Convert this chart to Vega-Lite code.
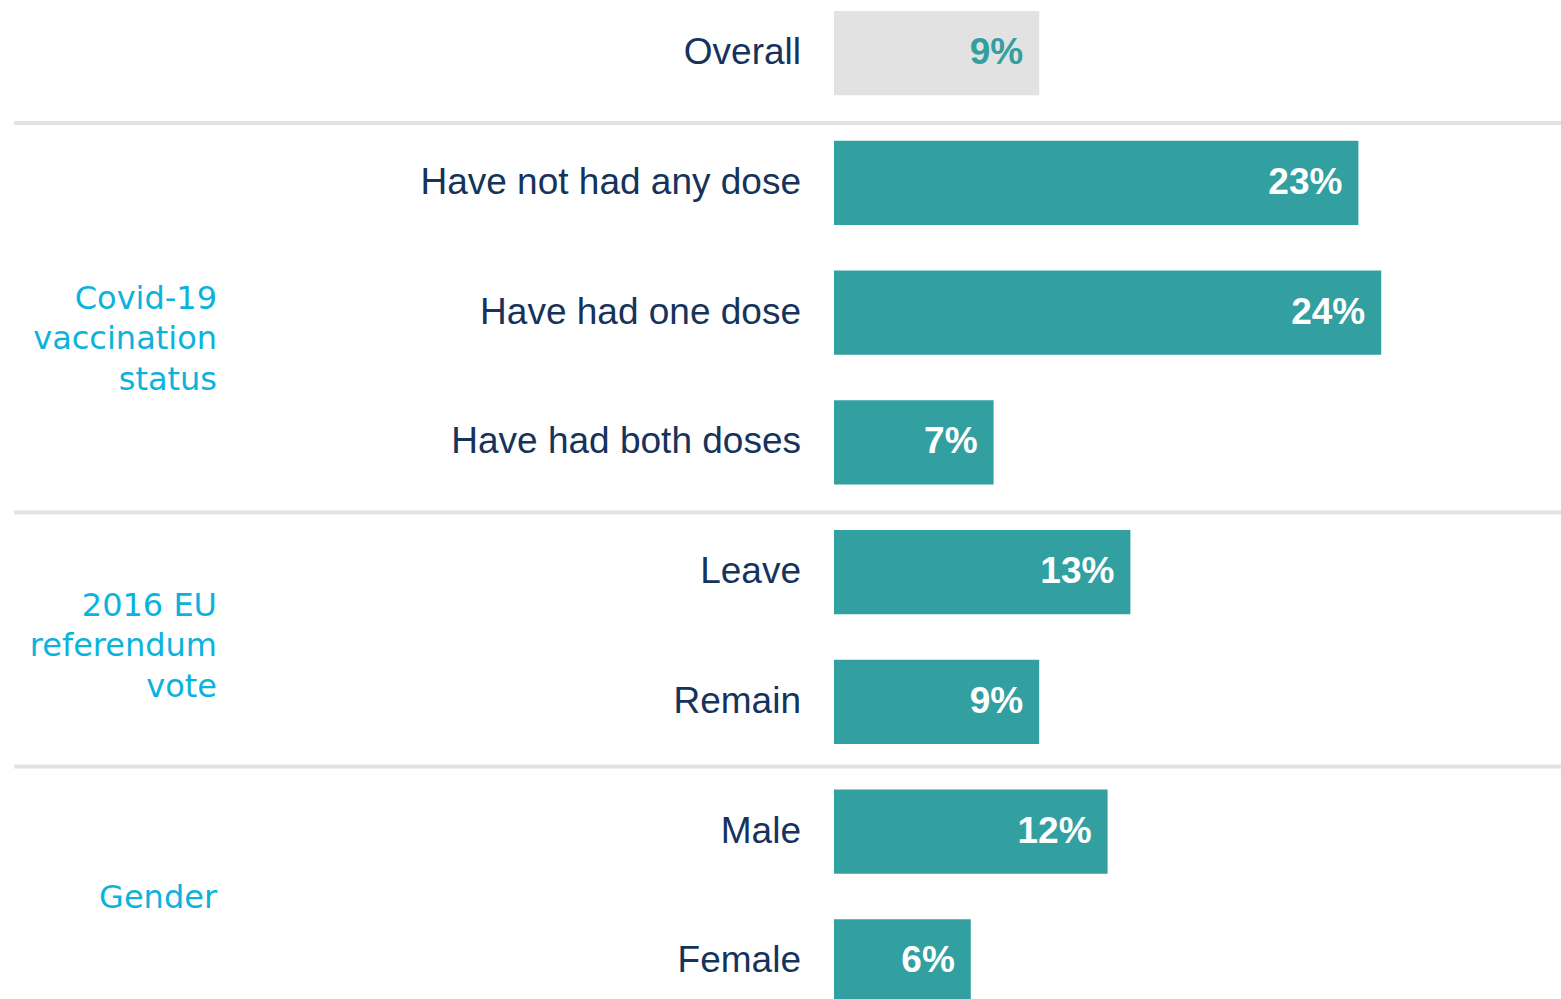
{
  "$schema": "https://vega.github.io/schema/vega-lite/v6.json",
  "width": 1561,
  "height": 999,
  "autosize": {"type": "none"},
  "padding": 0,
  "background": "white",
  "config": {"view": {"stroke": null}},
  "datasets": {
    "rows": [
      {"cat": "Overall", "value": 9, "label": "9%"},
      {"cat": "Have not had any dose", "value": 23, "label": "23%"},
      {"cat": "Have had one dose", "value": 24, "label": "24%"},
      {"cat": "Have had both doses", "value": 7, "label": "7%"},
      {"cat": "Leave", "value": 13, "label": "13%"},
      {"cat": "Remain", "value": 9, "label": "9%"},
      {"cat": "Male", "value": 12, "label": "12%"},
      {"cat": "Female", "value": 6, "label": "6%"}
    ],
    "groups": [
      {"cat": "Have had one dose", "key": "covid", "lines": ["Covid-19", "vaccination", "status"]},
      {"cat": "Leave", "key": "eu", "lines": ["2016 EU", "referendum", "vote"]},
      {"cat": "Male", "key": "gender", "lines": ["Gender"]}
    ],
    "seps": [
      {"cat": "Overall", "key": "a"},
      {"cat": "Have had both doses", "key": "a"},
      {"cat": "Remain", "key": "b"}
    ]
  },
  "encoding": {
    "y": {
      "field": "cat",
      "type": "nominal",
      "sort": null,
      "axis": null,
      "scale": {
        "domain": ["Overall", "Have not had any dose", "Have had one dose", "Have had both doses", "Leave", "Remain", "Male", "Female"],
        "range": [0, 1014.6],
        "paddingInner": 0.3503,
        "paddingOuter": 0.0848
      }
    }
  },
  "layer": [
    {
      "data": {"name": "seps"},
      "transform": [{"filter": "datum.key === 'a'"}],
      "mark": {"type": "rule", "strokeWidth": 4, "color": "#e3e3e3"},
      "encoding": {
        "y": {"field": "cat", "type": "nominal", "bandPosition": 1.329},
        "x": {"datum": -35.96, "type": "quantitative", "scale": {"domain": [-36.579, 31.886], "nice": false, "zero": false}, "axis": null},
        "x2": {"datum": 31.886}
      }
    },
    {
      "data": {"name": "seps"},
      "transform": [{"filter": "datum.key === 'b'"}],
      "mark": {"type": "rule", "strokeWidth": 4, "color": "#e3e3e3"},
      "encoding": {
        "y": {"field": "cat", "type": "nominal", "bandPosition": 1.266},
        "x": {"datum": -35.96, "type": "quantitative"},
        "x2": {"datum": 31.886}
      }
    },
    {
      "data": {"name": "rows"},
      "mark": {"type": "bar"},
      "encoding": {
        "x": {"field": "value", "type": "quantitative"},
        "color": {
          "condition": {"test": "datum.cat === 'Overall'", "value": "#e2e2e2"},
          "value": "#329fa0"
        }
      }
    },
    {
      "data": {"name": "rows"},
      "mark": {"type": "text", "align": "right", "baseline": "middle", "dx": -16, "font": "Liberation Sans", "fontWeight": "bold", "fontSize": 37},
      "encoding": {
        "x": {"field": "value", "type": "quantitative"},
        "text": {"field": "label"},
        "color": {
          "condition": {"test": "datum.cat === 'Overall'", "value": "#339fa0"},
          "value": "#ffffff"
        }
      }
    },
    {
      "data": {"name": "rows"},
      "mark": {"type": "text", "align": "right", "baseline": "middle", "dx": -33, "font": "Liberation Sans", "fontSize": 37, "color": "#15335b"},
      "encoding": {
        "x": {"datum": 0, "type": "quantitative"},
        "text": {"field": "cat"}
      }
    },
    {
      "data": {"name": "groups"},
      "transform": [{"filter": "datum.key === 'covid'"}],
      "mark": {"type": "text", "align": "right", "baseline": "middle", "dy": -14, "lineHeight": 40.5, "font": "DejaVu Sans", "fontSize": 32, "color": "#0bb3dc"},
      "encoding": {
        "x": {"datum": -27.06, "type": "quantitative"},
        "text": {"field": "lines"}
      }
    },
    {
      "data": {"name": "groups"},
      "transform": [{"filter": "datum.key === 'eu'"}],
      "mark": {"type": "text", "align": "right", "baseline": "middle", "dy": 33.5, "lineHeight": 40.5, "font": "DejaVu Sans", "fontSize": 32, "color": "#0bb3dc"},
      "encoding": {
        "x": {"datum": -27.06, "type": "quantitative"},
        "text": {"field": "lines"}
      }
    },
    {
      "data": {"name": "groups"},
      "transform": [{"filter": "datum.key === 'gender'"}],
      "mark": {"type": "text", "align": "right", "baseline": "middle", "dy": 66, "lineHeight": 40.5, "font": "DejaVu Sans", "fontSize": 32, "color": "#0bb3dc"},
      "encoding": {
        "x": {"datum": -27.06, "type": "quantitative"},
        "text": {"field": "lines"}
      }
    }
  ]
}
